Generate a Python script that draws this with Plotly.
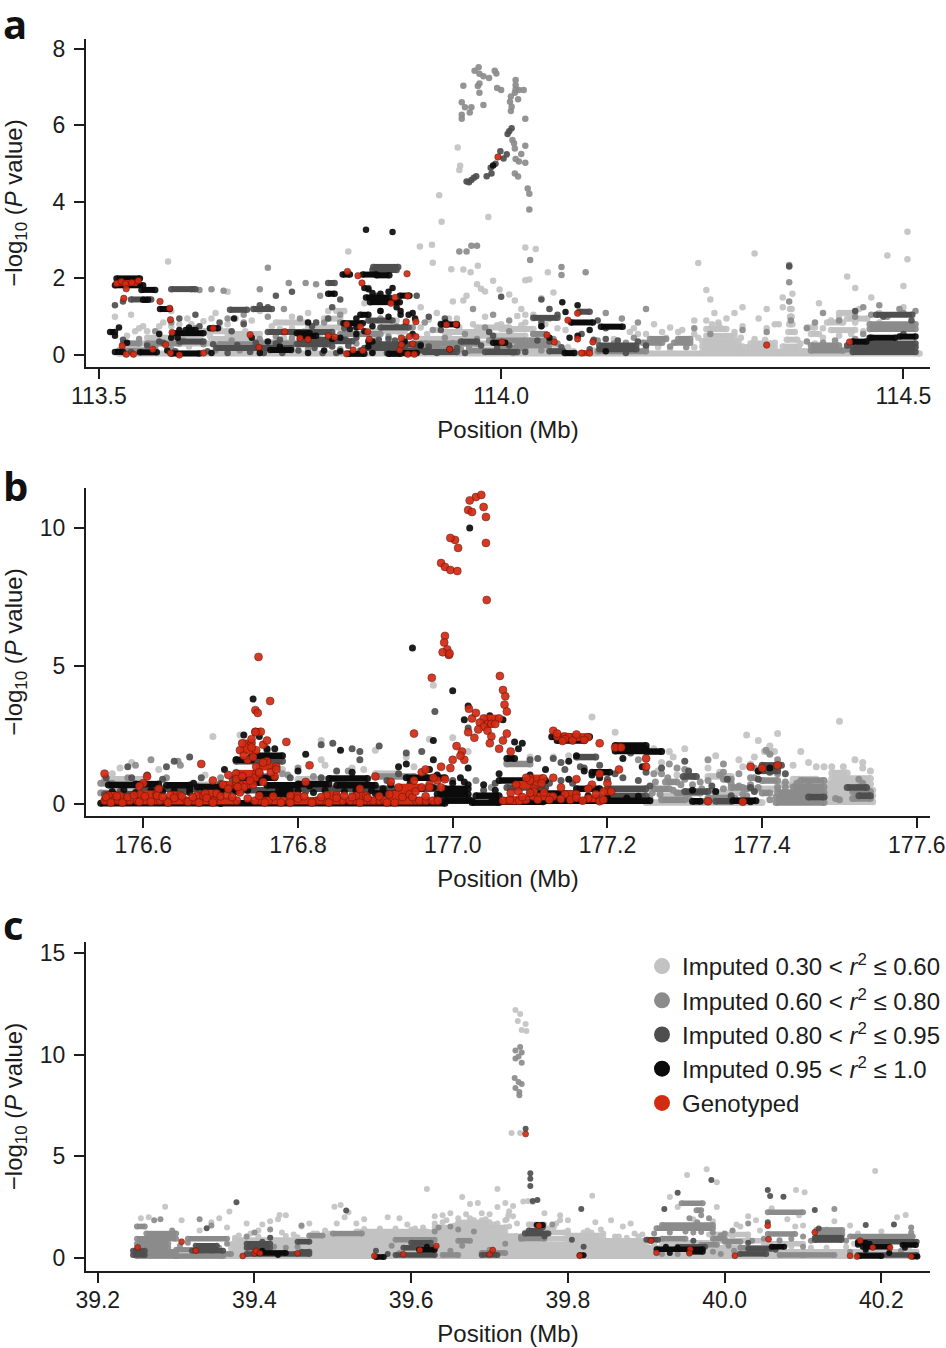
import plotly.graph_objects as go

# values
# *_runs = stretches of merged dots (x from, x to, y), *_px / *_py and *_dots = separate dots
class_names = ["Imputed 0.30 &lt; <i>r</i><sup>2</sup> ≤ 0.60", "Imputed 0.60 &lt; <i>r</i><sup>2</sup> ≤ 0.80",
               "Imputed 0.80 &lt; <i>r</i><sup>2</sup> ≤ 0.95", "Imputed 0.95 &lt; <i>r</i><sup>2</sup> ≤ 1.0", "Genotyped"]
class_colors = ["#c2c2c2", "#8b8b8b", "#4e4e4e", "#0b0b0b", "#d32a12"]

a_xticks = [113.5, 114.0, 114.5]
a_yticks = [0, 2, 4, 6, 8]
b_xticks = [176.6, 176.8, 177.0, 177.2, 177.4, 177.6]
b_yticks = [0, 5, 10]
c_xticks = [39.2, 39.4, 39.6, 39.8, 40.0, 40.2]
c_yticks = [0, 5, 10, 15]

# ---- panel a
a_light_runs = [(113.525, 114.52, 0.04), (113.53, 113.58, 0.3), (113.56, 113.62, 0.45), (113.60, 113.66, 0.3), (113.64, 113.69, 0.42), (113.66, 113.70, 0.55),
                (113.63, 113.66, 0.62), (113.70, 113.74, 0.33), (113.76, 113.80, 0.72), (113.78, 113.80, 0.95), (113.795, 113.805, 1.15), (113.88, 113.92, 0.2),
                (113.90, 113.96, 0.42), (113.92, 113.99, 0.3), (113.93, 113.98, 0.6), (113.96, 114.03, 0.5), (113.97, 114.01, 0.72), (114.0, 114.04, 0.3), (114.0, 114.04, 0.68),
                (114.03, 114.09, 0.1), (114.25, 114.30, 0.08), (114.25, 114.30, 0.22), (114.25, 114.295, 0.36), (114.255, 114.29, 0.5), (114.255, 114.28, 0.68),
                (114.30, 114.345, 0.08), (114.305, 114.34, 0.2), (114.31, 114.335, 0.3), (114.345, 114.375, 0.08), (114.35, 114.37, 0.22), (114.355, 114.368, 0.4),
                (114.357, 114.365, 0.6), (114.358, 114.362, 0.8), (114.359, 114.361, 1.0), (114.359, 114.361, 1.2), (114.38, 114.39, 0.72), (114.385, 114.395, 0.55),
                (114.37, 114.385, 0.1), (114.405, 114.425, 0.85), (114.41, 114.44, 0.65), (114.43, 114.455, 0.95), (114.42, 114.44, 1.1), (113.84, 113.88, 0.62), (113.72, 113.76, 0.85)]
a_light_px = [113.586, 113.81, 113.899, 113.914, 113.915, 113.938, 113.962, 113.946, 113.949, 113.948, 113.923, 113.926, 113.953, 113.971, 113.984,
              113.99, 113.998, 113.97, 113.975, 113.98, 113.957, 113.953, 114.01, 114.017, 114.03, 114.035, 114.03, 114.043, 114.058, 114.065,
              114.025, 114.03, 114.05, 113.52, 113.54, 113.555, 113.58, 113.61, 113.645, 113.66, 113.69, 113.715, 113.74, 113.77, 113.785,
              114.245, 114.255, 114.265, 114.28, 114.30, 114.315, 114.33, 114.35, 114.358, 114.36, 114.362, 114.395, 114.41, 114.43, 114.445, 114.46,
              114.48, 114.50, 114.505, 114.505, 114.50, 114.47, 114.44, 114.24, 114.27, 114.32, 114.34, 114.13, 114.16, 114.18, 114.20, 114.22,
              113.90, 113.92, 113.935, 113.94, 113.98, 114.00, 114.04, 114.06, 114.08, 113.55, 113.60, 113.59, 113.64, 113.70, 113.76, 113.83,
              114.255, 114.27, 114.30, 114.345, 114.40, 114.47, 114.35, 114.33, 114.26, 114.29, 114.44, 114.42,
              114.14, 114.165, 114.17, 114.19, 114.205, 114.24, 114.21, 114.225, 113.66, 113.67, 113.59, 113.615, 113.56, 113.575, 113.63, 113.65, 113.725, 113.74,
              113.77, 113.785, 113.82, 113.87, 113.90, 113.91, 113.925, 113.945, 114.04, 114.02, 114.03, 114.055, 114.07]
a_light_py = [2.44, 2.70, 2.83, 2.88, 2.41, 2.24, 2.16, 5.42, 4.94, 4.83, 4.17, 3.48, 2.23, 2.33, 3.60, 1.94, 1.71, 1.85, 1.73, 1.66, 1.55, 1.42, 1.58, 1.42,
              2.81, 1.97, 1.95, 2.77, 2.16, 1.63, 1.20, 1.05, 1.48, 1.0, 1.05, 0.75, 0.85, 0.95, 1.1, 1.65, 0.9, 0.75, 1.0, 0.85, 1.15,
              2.40, 1.7, 1.1, 0.95, 1.25, 2.65, 1.2, 1.5, 2.3, 1.0, 1.6, 1.35, 0.9, 2.05, 1.2, 1.5,
              2.6, 1.25, 3.22, 2.5, 1.8, 1.1, 0.85, 0.9, 0.85, 0.95, 0.8, 0.72, 0.6, 0.55, 0.6, 0.6,
              1.25, 1.1, 0.95, 1.4, 1.0, 0.8, 1.05, 1.2, 0.65, 0.7, 0.8, 1.15, 0.95, 1.15, 1.1, 1.35,
              0.9, 0.8, 0.75, 0.8, 0.7, 0.85, 1.25, 0.7, 1.45, 1.1, 1.75, 1.0,
              0.42, 0.7, 0.55, 0.8, 0.45, 0.55, 0.72, 0.65, 0.8, 0.95, 0.75, 0.8, 0.62, 0.75, 0.88, 0.7, 0.68, 0.7,
              0.6, 0.95, 0.7, 0.9, 0.72, 0.92, 0.82, 0.95, 0.95, 1.02, 0.85, 0.8, 0.7]
a_light_dots = [(113.535, 0.5), (113.545, 0.62), (113.565, 0.3), (113.575, 0.58), (113.585, 0.38), (113.6, 0.48), (113.612, 0.22), (113.625, 0.45), (113.638, 0.5), (113.652, 0.32), (113.668, 0.48), (113.682, 0.62),
                (113.695, 0.38), (113.712, 0.25), (113.73, 0.45), (113.748, 0.35), (113.775, 0.55), (113.79, 0.4), (113.815, 0.55), (113.84, 0.45), (113.875, 0.55), (113.893, 0.38), (113.908, 0.55), (113.92, 0.65),
                (113.935, 0.5), (113.948, 0.72), (113.965, 0.8), (113.985, 0.62), (113.995, 0.78), (114.012, 0.6), (114.025, 0.78), (114.045, 0.15), (114.068, 0.22), (114.083, 0.2), (114.115, 0.12), (114.16, 0.15),
                (114.178, 0.12), (114.195, 0.2), (114.21, 0.15), (114.24, 0.2), (114.245, 0.45), (114.262, 0.8), (114.272, 0.72), (114.29, 0.6), (114.298, 0.45), (114.315, 0.42), (114.328, 0.4), (114.34, 0.32),
                (114.372, 0.3), (114.39, 0.3), (114.4, 0.45), (114.42, 0.5), (114.435, 0.55), (114.45, 0.62), (114.462, 0.45)]
a_mid_runs = [(113.525, 113.56, 0.12), (113.53, 113.55, 0.3), (113.56, 113.60, 0.3), (113.65, 113.70, 0.28), (113.96, 114.0, 0.12), (114.0, 114.03, 0.18),
              (113.91, 113.95, 0.15), (113.94, 113.97, 0.3), (113.985, 114.03, 0.38), (114.02, 114.06, 0.25), (114.035, 114.055, 0.38), (114.04, 114.055, 0.55),
              (114.176, 114.20, 0.32), (114.185, 114.205, 0.42), (114.215, 114.235, 0.32), (114.22, 114.235, 0.42), (114.12, 114.18, 0.1), (114.385, 114.425, 0.12),
              (114.385, 114.42, 0.25), (114.458, 114.515, 0.8), (114.458, 114.515, 0.68), (113.70, 113.78, 0.3), (113.80, 113.85, 0.55), (113.905, 113.94, 0.3),
              (114.43, 114.46, 0.15)]
a_mid_px = [113.967, 113.972, 113.973, 113.978, 113.985, 113.992, 113.994, 113.953, 113.973, 113.971, 113.973, 113.995, 114.000, 114.018, 114.018, 114.018,
            114.017, 114.022, 114.028, 114.012, 114.011, 114.021, 114.013, 114.012, 113.951, 113.955, 113.963, 113.961, 113.951, 113.951, 113.978, 114.030,
            114.014, 114.016, 114.017, 114.030, 114.018, 114.022, 114.025, 114.030, 114.017, 114.021, 114.033, 114.035, 114.035,
            113.71, 113.736, 113.757, 113.948, 113.963, 113.957, 113.97, 114.036, 114.075, 114.075, 114.105,
            113.615, 113.625, 113.64, 113.655, 113.68, 113.70, 113.71, 113.73, 113.77, 113.775, 113.80, 113.80,
            114.46, 114.48, 114.50, 114.45, 114.44, 114.42, 114.40, 114.39, 114.38, 114.358, 114.358, 114.358, 114.36, 114.47, 114.495, 114.515,
            114.13, 114.15, 114.17, 114.18, 114.24, 114.26, 114.30, 114.33, 113.965, 113.99, 114.01, 114.06, 114.05, 114.04,
            113.57, 113.59, 113.62, 113.66, 113.68, 113.75, 113.78, 113.85, 113.87, 113.89, 113.905, 113.915, 113.955, 113.98, 114.01]
a_mid_py = [7.42, 7.51, 7.34, 7.28, 7.23, 7.42, 7.35, 7.03, 7.09, 7.02, 6.85, 6.97, 6.92, 7.18, 7.05, 6.94, 6.85, 6.92, 6.92, 6.75, 6.61, 6.68, 6.48, 6.37,
            6.60, 6.47, 6.47, 6.33, 6.27, 6.17, 6.53, 6.17, 5.61, 5.53, 5.39, 5.46, 5.12, 5.05, 5.25, 5.02, 4.74, 4.66, 4.35, 4.21, 3.80,
            2.28, 1.88, 1.88, 2.70, 2.85, 2.70, 2.85, 2.48, 2.30, 2.09, 2.16,
            1.72, 1.7, 1.72, 1.68, 1.05, 1.72, 1.0, 1.2, 1.85, 1.55, 1.05, 0.85,
            1.05, 1.0, 1.1, 1.25, 1.0, 0.9, 1.1, 0.85, 0.7, 2.35, 1.9, 1.4, 0.9, 1.3, 1.2, 1.15,
            1.1, 0.95, 0.85, 1.2, 0.7, 0.55, 0.65, 0.6, 1.2, 1.05, 0.9, 0.95, 0.75, 0.55,
            0.62, 0.85, 0.7, 0.95, 0.85, 0.95, 0.85, 0.95, 0.75, 0.72, 0.85, 0.65, 0.55, 0.72, 0.62]
a_mid_dots = [(113.55, 0.42), (113.57, 0.18), (113.59, 0.15), (113.605, 0.38), (113.63, 0.28), (113.645, 0.12), (113.665, 0.38), (113.675, 0.12), (113.7, 0.42), (113.72, 0.48), (113.74, 0.45), (113.76, 0.15), (113.785, 0.48),
              (113.8, 0.15), (113.82, 0.3), (113.845, 0.38), (113.86, 0.48), (113.88, 0.42), (113.9, 0.3), (113.92, 0.2), (113.93, 0.45), (113.96, 0.22), (113.97, 0.42), (114.015, 0.05), (114.05, 0.12), (114.065, 0.42),
              (114.07, 0.3), (114.12, 0.38), (114.14, 0.3), (114.155, 0.32), (114.165, 0.45), (114.18, 0.18), (114.21, 0.22), (114.23, 0.2), (114.38, 0.35), (114.4, 0.32), (114.415, 0.38), (114.44, 0.42), (114.45, 0.55)]
a_dark_runs = [(113.71, 113.754, 0.6), (113.755, 113.79, 0.6), (113.646, 113.69, 0.18), (113.692, 113.739, 0.18), (113.746, 113.785, 0.28), (113.78, 113.815, 0.36),
               (113.837, 113.90, 0.28), (113.862, 113.91, 0.12), (113.83, 113.87, 0.18), (113.75, 113.807, 0.4), (113.841, 113.872, 2.30), (113.692, 113.715, 1.2),
               (113.663, 113.684, 1.18), (113.785, 113.793, 1.88), (113.84, 113.87, 2.22), (113.54, 113.565, 1.45), (113.59, 113.62, 1.72), (113.85, 113.885, 0.72),
               (113.905, 113.945, 0.08), (113.98, 114.02, 0.08), (114.04, 114.07, 0.97), (114.06, 114.077, 0.1), (114.097, 114.11, 1.13), (114.122, 114.168, 0.15),
               (114.122, 114.168, 0.25), (114.437, 114.515, 0.08), (114.437, 114.515, 0.2), (114.445, 114.515, 0.3), (114.466, 114.511, 1.05), (113.95, 113.97, 0.35),
               (113.6, 113.63, 0.35), (113.835, 113.865, 0.9)]
a_dark_px = [113.957, 113.96, 113.963, 113.966, 113.969, 113.982, 113.987, 113.988, 113.993, 113.999, 114.003, 114.007, 114.008, 114.01, 114.013, 114.0,
             113.52, 113.53, 113.60, 113.62, 113.65, 113.68, 113.70, 113.71, 113.72, 113.74, 113.77, 113.79, 113.785, 113.80, 113.835, 113.845, 113.85, 113.88, 113.895, 113.91,
             114.05, 114.06, 114.07, 114.10, 114.12, 114.13, 114.05, 113.925, 113.93, 113.985, 113.99, 114.475, 114.50, 114.51, 114.44, 114.358,
             113.53, 113.575, 113.625, 113.665, 113.725, 113.765, 113.805, 113.86]
a_dark_py = [4.53, 4.51, 4.57, 4.63, 4.67, 4.67, 4.89, 4.74, 4.99, 5.32, 5.13, 5.24, 5.77, 5.84, 5.92, 1.52,
             1.3, 1.4, 0.95, 1.05, 0.85, 0.8, 1.3, 1.25, 1.55, 1.65, 0.85, 1.25, 0.95, 1.45, 1.75, 1.55, 1.15, 0.75, 1.55, 1.0,
             1.45, 1.2, 1.05, 0.55, 0.9, 0.7, 0.85, 0.65, 0.95, 0.6, 0.5, 1.0, 0.55, 0.9, 1.15, 2.32,
             0.4, 0.35, 0.75, 0.62, 0.4, 0.75, 0.7, 0.42]
a_dark_dots = [(113.54, 0.08), (113.56, 0.25), (113.58, 0.32), (113.595, 0.1), (113.635, 0.1), (113.642, 0.28), (113.66, 0.05), (113.672, 0.26), (113.688, 0.08), (113.695, 0.32), (113.705, 0.05), (113.72, 0.3), (113.728, 0.05),
               (113.748, 0.12), (113.752, 0.48), (113.768, 0.18), (113.778, 0.05), (113.79, 0.22), (113.795, 0.05), (113.81, 0.24), (113.825, 0.12), (113.82, 0.45), (113.84, 0.08), (113.848, 0.4), (113.858, 0.05), (113.868, 0.38),
               (113.88, 0.18), (113.885, 0.05), (113.895, 0.22), (113.91, 0.22), (113.92, 0.05), (113.945, 0.18), (113.955, 0.05), (113.975, 0.25), (113.995, 0.18), (114.01, 0.25), (114.03, 0.08), (114.045, 0.38), (114.06, 0.35),
               (114.075, 0.2), (114.11, 0.15), (114.115, 0.4), (114.13, 0.42), (114.145, 0.38), (114.155, 0.05), (114.17, 0.35), (114.18, 0.25), (114.43, 0.25), (114.44, 0.12), (114.46, 0.45)]
a_black_runs = [(113.522, 113.551, 2.00), (113.52, 113.555, 1.82), (113.553, 113.57, 1.70), (113.576, 113.588, 1.20), (113.555, 113.561, 1.44), (113.592, 113.63, 0.57),
                (113.608, 113.62, 0.65), (113.551, 113.572, 0.07), (113.713, 113.739, 0.13), (113.746, 113.762, 0.57), (113.804, 113.828, 0.83), (113.828, 113.845, 2.10),
                (113.832, 113.861, 1.50), (113.837, 113.874, 1.38), (113.874, 113.886, 1.55), (113.845, 113.861, 2.08), (113.785, 113.793, 1.60), (113.803, 113.812, 2.10),
                (113.514, 113.52, 0.6), (113.52, 113.53, 0.08), (113.638, 113.648, 0.7), (113.59, 113.625, 0.04), (113.81, 113.83, 0.03), (113.86, 113.875, 0.03), (113.88, 113.895, 0.05),
                (114.087, 114.114, 0.85), (114.124, 114.151, 0.74), (114.458, 114.49, 0.45), (114.495, 114.515, 0.48), (114.437, 114.454, 0.35), (114.079, 114.091, 0.05),
                (113.925, 113.945, 0.80), (113.75, 113.77, 0.5), (113.825, 113.835, 1.05), (113.99, 114.005, 0.32)]
a_black_px = [113.832, 113.865, 113.99, 113.931, 113.936, 113.945, 114.076, 114.095, 114.08, 113.575, 113.59, 113.60, 113.69, 113.79, 113.82, 113.835, 113.85, 113.865, 113.875, 113.885, 113.89,
              113.78, 113.90, 114.06, 114.085, 114.095, 114.11, 114.13, 114.05, 113.83, 113.84, 113.86, 113.88, 113.668, 113.76, 113.8, 113.84]
a_black_py = [3.27, 3.21, 4.95, 0.85, 0.15, 0.78, 1.38, 1.30, 1.12, 0.55, 0.45, 0.65, 0.45, 0.42, 0.55, 0.35, 1.15, 1.75, 1.05, 1.05, 0.55,
              0.12, 0.25, 0.45, 0.45, 0.5, 0.65, 0.1, 0.75, 1.75, 0.75, 1.0, 0.35, 0.95, 0.85, 0.1, 0.05]
a_black_dots = [(113.52, 0.5), (113.525, 0.72), (113.535, 0.32), (113.585, 0.12), (113.598, 0.45), (113.612, 0.72), (113.64, 0.05), (113.7, 0.05), (113.71, 0.35), (113.725, 0.22), (113.76, 0.05), (113.8, 0.45), (113.82, 0.72),
                (113.83, 0.62), (113.812, 0.68), (113.835, 0.22), (113.84, 0.35), (113.85, 1.6), (113.84, 1.62), (113.835, 1.72), (113.86, 1.65), (113.87, 1.25), (113.875, 1.15), (113.89, 1.1), (113.893, 0.95), (113.82, 0.95)]
a_red_runs = [(113.525, 113.545, 1.88), (114.10, 114.11, 0.05)]
a_red_px = [113.522, 113.528, 113.533, 113.541, 113.549, 113.534, 113.531, 113.576, 113.588, 113.589, 113.591, 113.583, 113.529, 113.534, 113.543, 113.567,
            113.589, 113.6, 113.630, 113.642, 113.688, 113.699, 113.731, 113.75, 113.76, 113.785, 113.793, 113.809, 113.822, 113.827, 113.808, 113.825, 113.834, 113.836, 113.808,
            113.816, 113.828, 113.868, 113.863, 113.884, 113.883, 113.882, 113.894, 113.932, 113.944, 113.936, 113.876, 113.886, 113.894, 113.874, 113.876, 113.89, 113.884, 113.892,
            113.996, 114.095, 114.083, 114.095, 114.114, 114.057, 114.066, 114.001, 114.33, 114.433]
a_red_py = [1.87, 1.92, 1.86, 1.89, 1.94, 1.73, 1.48, 1.40, 1.22, 0.92, 0.59, 0.27, 0.24, 0.02, 0.02, 0.15, 0.05, 0.0, 0.05, 0.7, 0.53, 0.2, 0.61, 0.44, 0.41, 0.5, 0.47,
            2.18, 2.07, 1.88, 0.8, 0.74, 0.61, 0.41, 0.03, 0.13, 0.12, 1.5, 1.35, 1.54, 2.12, 0.87, 0.87, 0.79, 0.8, 0.15, 0.44, 0.48, 0.48, 0.13, 0.27, 0.29, 0.02, 0.02,
            5.17, 1.09, 0.91, 0.42, 0.34, 0.52, 0.34, 0.34, 0.26, 0.34]

# ---- panel b
b_light_runs = [(177.48, 177.543, 0.08), (177.48, 177.543, 0.3), (177.48, 177.543, 0.5), (177.485, 177.54, 0.72), (177.49, 177.54, 0.92), (177.49, 177.51, 1.12), (177.403, 177.416, 1.9),
                (177.25, 177.40, 0.05), (177.27, 177.30, 0.3), (177.34, 177.37, 0.42), (177.38, 177.42, 0.55), (177.44, 177.47, 0.9), (177.42, 177.44, 0.7), (176.55, 176.60, 0.9), (176.56, 176.64, 0.55),
                (176.66, 176.72, 0.7), (176.80, 176.86, 0.9), (176.90, 176.93, 1.1), (177.33, 177.36, 1.0)]
b_light_px = [176.69, 176.725, 176.727, 176.83, 176.83, 176.835, 176.885, 176.90, 176.94, 176.975, 176.97, 177.0, 177.02, 177.07, 177.10, 177.27, 177.28, 177.30, 177.34, 177.38, 177.395, 177.41, 177.42, 177.44, 177.45, 177.50, 177.46, 177.48, 177.53, 176.585, 177.18, 177.21,
              177.26, 177.265, 177.285, 177.29, 177.33, 177.345, 177.37, 177.375, 177.385, 177.39, 177.42, 177.47, 177.49, 177.505, 177.52, 177.53, 177.54, 176.56, 176.57, 176.62, 176.68, 176.78, 176.87, 176.95, 177.13, 177.15]
b_light_py = [2.45, 2.5, 2.2, 2.3, 1.6, 1.4, 1.25, 1.95, 1.7, 4.3, 2.35, 2.4, 1.9, 1.5, 1.7, 1.5, 1.9, 2.0, 1.75, 2.5, 2.3, 2.1, 2.55, 1.4, 1.9, 3.0, 1.5, 1.35, 1.3, 1.5, 3.15, 2.6,
              2.0, 1.2, 1.7, 1.05, 1.3, 1.15, 1.6, 1.35, 1.45, 1.7, 1.25, 1.35, 1.35, 1.35, 1.6, 1.5, 1.2, 1.1, 1.3, 1.25, 1.05, 1.25, 1.3, 1.35, 1.7, 1.75]
b_mid_runs = [(176.545, 176.56, 0.4), (176.545, 176.56, 0.75), (176.72, 176.76, 1.0), (176.90, 176.95, 1.0), (177.07, 177.10, 1.45), (177.418, 177.48, 0.05), (177.418, 177.48, 0.25), (177.42, 177.48, 0.42),
              (177.44, 177.48, 0.62), (177.45, 177.48, 0.85), (177.517, 177.54, 0.2), (177.517, 177.54, 0.45), (177.27, 177.30, 0.15), (177.29, 177.32, 0.4), (177.26, 177.28, 0.55), (177.275, 177.29, 0.8),
              (177.33, 177.36, 0.22), (177.36, 177.375, 0.6), (177.40, 177.42, 0.85), (177.40, 177.41, 0.4), (177.35, 177.36, 0.9), (177.31, 177.33, 0.1)]
b_mid_px = [176.59, 176.61, 176.645, 176.648, 176.72, 176.77, 176.78, 176.787, 176.80, 176.82, 176.865, 177.24, 177.26, 177.28, 177.30, 177.31, 177.32, 177.36, 177.37, 177.41, 177.42, 177.415, 177.405, 177.35, 177.385, 177.39, 177.33,
            177.258, 177.27, 177.30, 177.305, 177.335, 177.345, 177.38, 177.39, 177.37, 177.42, 177.43, 177.44, 177.495, 177.53, 177.525, 177.27, 177.29, 177.35, 177.4]
b_mid_py = [1.4, 1.6, 1.55, 1.4, 1.15, 1.4, 1.1, 1.05, 1.3, 1.0, 1.2, 1.6, 1.1, 1.45, 1.25, 1.0, 0.8, 0.75, 0.65, 1.8, 1.6, 1.3, 1.95, 1.15, 0.7, 1.3, 1.6,
            0.4, 1.1, 0.9, 0.2, 0.5, 1.05, 0.3, 0.95, 1.1, 1.1, 0.8, 0.35, 0.2, 0.75, 0.9, 1.9, 1.3, 1.45, 1.25]
b_mid_dots = [(177.255, 0.2), (177.262, 0.8), (177.268, 0.35), (177.278, 0.95), (177.285, 0.5), (177.295, 0.7), (177.31, 0.7), (177.322, 0.55), (177.33, 0.85), (177.34, 0.4), (177.35, 0.55), (177.365, 0.2), (177.375, 0.35),
              (177.38, 0.55), (177.385, 0.95), (177.395, 0.6), (177.41, 0.15), (177.42, 0.6), (177.43, 0.6), (177.445, 0.75), (177.46, 0.7), (177.5, 0.15), (177.525, 0.62), (176.58, 0.95), (176.63, 0.95), (176.7, 0.95),
              (176.84, 0.4), (176.87, 0.4), (177.05, 0.6), (177.03, 0.85), (177.12, 0.6)]
b_dark_runs = [(176.55, 176.60, 0.35), (176.60, 176.70, 0.55), (176.70, 176.80, 0.5), (176.80, 176.90, 0.55), (176.90, 176.98, 0.55), (176.55, 176.57, 0.15), (176.98, 177.02, 0.2), (177.07, 177.12, 0.6),
               (177.298, 177.315, 1.0), (177.30, 177.33, 0.45), (177.34, 177.36, 0.1), (177.395, 177.42, 1.2), (177.40, 177.425, 1.4), (177.20, 177.25, 0.55), (176.72, 176.78, 1.55), (177.16, 177.185, 1.7),
               (177.20, 177.25, 0.3), (177.46, 177.48, 0.25), (177.51, 177.535, 0.6), (177.525, 177.54, 0.3)]
b_dark_px = [176.58, 176.63, 176.64, 176.66, 176.70, 176.72, 176.76, 176.83, 176.845, 176.87, 176.88, 176.905, 176.94, 176.96, 176.977, 177.02, 177.10, 177.14, 177.19, 177.23, 177.27, 177.30, 177.305, 177.355, 177.385, 177.39, 177.41, 176.88, 176.85,
             177.11, 177.13, 177.145, 177.165, 177.21, 177.25, 177.335, 177.36, 177.375, 177.395, 177.43]
b_dark_py = [1.35, 1.35, 1.55, 1.7, 0.75, 1.6, 1.95, 2.15, 2.2, 2.0, 1.9, 2.1, 1.85, 1.9, 3.35, 2.75, 1.6, 1.5, 1.4, 1.85, 1.3, 1.55, 1.2, 0.9, 0.6, 0.45, 1.15, 1.6, 1.2,
             1.65, 1.65, 1.25, 1.35, 1.1, 1.15, 0.65, 0.3, 0.1, 0.9, 1.1]
b_dark_dots = [(176.552, 0.95), (176.57, 0.45), (176.585, 0.95), (176.605, 1.05), (176.625, 0.9), (176.655, 0.45), (176.675, 0.95), (176.69, 0.45), (176.715, 0.9), (176.79, 0.95), (176.81, 0.45), (176.83, 0.95), (176.85, 0.4), (176.87, 0.95),
               (176.89, 0.42), (176.915, 0.85), (176.93, 1.1), (176.965, 1.0), (177.0, 0.85), (177.04, 0.5), (177.055, 0.75), (177.125, 0.75), (177.14, 0.85), (177.155, 0.75), (177.17, 1.3), (177.2, 0.9), (177.22, 0.95), (177.24, 0.85), (177.255, 0.65)]
b_black_runs = [(176.555, 176.59, 0.69), (176.59, 176.62, 0.72), (176.63, 176.66, 0.68), (176.67, 176.70, 0.62), (176.70, 176.72, 0.55), (176.72, 176.75, 0.78), (176.76, 176.80, 0.68), (176.80, 176.84, 0.72), (176.85, 176.90, 0.68),
                (176.545, 176.70, 0.03), (176.70, 176.99, 0.03), (176.99, 177.025, 0.12), (177.025, 177.06, 0.05), (176.90, 176.94, 0.38), (176.98, 177.02, 0.35), (177.03, 177.06, 0.3), (176.75, 176.785, 0.35), (177.05, 177.117, 0.08),
                (177.117, 177.255, 0.12), (177.1, 177.16, 0.38), (177.06, 177.12, 0.85), (177.128, 177.177, 2.44), (177.135, 177.17, 2.3), (177.21, 177.25, 1.92), (177.21, 177.25, 2.12), (177.235, 177.25, 2.0), (177.362, 177.392, 0.12),
                (176.72, 176.77, 0.95), (176.74, 176.78, 1.75), (176.99, 177.02, 0.55), (177.25, 177.27, 1.9), (177.07, 177.08, 1.65), (176.84, 176.89, 0.92), (176.94, 176.99, 0.95), (177.18, 177.203, 1.15), (177.16, 177.19, 0.55),
                (176.775, 176.79, 0.5), (176.72, 176.74, 1.6), (177.31, 177.32, 0.1)]
b_black_px = [176.948, 176.742, 177.022, 177.0, 177.048, 176.94, 177.02, 177.015, 176.73, 176.75, 176.76, 176.77, 176.76, 176.93, 176.97, 176.975, 176.98, 177.065, 177.085, 177.08,
              177.06, 177.10, 177.12, 177.02, 177.01, 177.02, 176.705, 176.665, 176.66, 176.975, 177.385, 177.395, 177.41, 176.855, 176.81, 176.80, 176.815, 176.87, 177.17, 177.18, 177.19,
              177.245, 177.22, 177.34, 177.31, 177.09, 177.15, 177.15, 177.16]
b_black_py = [5.65, 3.8, 10.0, 4.1, 3.2, 1.45, 3.55, 3.05, 2.5, 2.45, 2.0, 2.0, 1.7, 1.35, 1.25, 1.6, 1.05, 3.05, 2.0, 2.25,
              1.1, 1.05, 1.25, 1.3, 0.95, 0.7, 1.25, 0.75, 0.55, 2.3, 0.08, 1.2, 1.3, 1.95, 1.8, 1.2, 0.65, 1.15, 1.2, 1.05, 0.95,
              1.35, 1.65, 0.45, 0.5, 2.2, 1.55, 0.9, 1.75]
b_black_dots = [(176.56, 0.45), (176.575, 0.52), (176.59, 0.42), (176.61, 0.5), (176.625, 0.45), (176.64, 0.48), (176.66, 0.42), (176.68, 0.5), (176.7, 0.42), (176.72, 0.45), (176.735, 0.5), (176.8, 0.48), (176.82, 0.42), (176.835, 0.5), (176.86, 0.45),
                (176.875, 0.5), (176.895, 0.48), (176.91, 0.55), (176.92, 0.7), (176.945, 0.75), (176.96, 0.55), (176.975, 0.6), (177.0, 0.75), (177.015, 0.8), (177.04, 0.7), (177.055, 0.5), (177.13, 0.3), (177.15, 0.25), (177.175, 0.3), (177.2, 0.25), (177.225, 0.22), (177.24, 0.28)]
b_red_runs = [(176.55, 176.562, 0.12), (176.568, 176.583, 0.12), (176.592, 176.622, 0.12), (176.63, 176.656, 0.12), (176.665, 176.689, 0.12), (176.691, 176.721, 0.12), (176.744, 176.759, 0.12),
              (176.762, 176.781, 0.12), (176.789, 176.824, 0.12), (176.828, 176.858, 0.12), (176.867, 176.893, 0.12), (176.897, 176.906, 0.12), (176.912, 176.953, 0.12), (176.957, 176.966, 0.12),
              (176.974, 176.981, 0.12), (177.065, 177.086, 0.12), (176.555, 176.57, 0.3), (176.596, 176.617, 0.35), (176.635, 176.648, 0.32), (176.669, 176.678, 0.3), (176.68, 176.695, 0.38), (176.79, 176.80, 0.3),
              (176.837, 176.85, 0.32), (176.875, 176.888, 0.3), (176.918, 176.944, 0.35), (176.703, 176.72, 0.7), (176.725, 176.742, 0.7), (176.72, 176.746, 1.1), (176.746, 176.772, 1.35), (176.725, 176.746, 1.95),
              (176.728, 176.74, 2.2), (176.745, 176.752, 2.62), (176.93, 176.96, 0.6), (177.04, 177.06, 3.1), (177.074, 177.095, 0.15), (177.082, 177.108, 0.7), (177.10, 177.117, 0.93), (177.104, 177.13, 0.27),
              (177.175, 177.19, 0.2), (177.195, 177.205, 0.45), (177.145, 177.16, 0.35), (177.045, 177.05, 2.9), (177.135, 177.145, 2.45), (177.15, 177.175, 2.42), (177.21, 177.218, 2.05)]
b_red_px = [177.030, 177.037, 177.022, 177.02, 177.04, 177.025, 177.043, 177.003, 177.007, 176.997, 177.043, 176.985, 176.99, 176.997, 177.006, 177.044,
            176.99, 176.989, 176.993, 176.995, 176.987, 176.996, 176.973, 177.061, 177.065, 177.068, 177.067, 177.07, 176.749, 176.764, 176.745, 176.748,
            177.021, 177.025, 177.03, 177.035, 177.04, 177.02, 177.028, 177.033, 177.045, 177.05, 177.055, 177.048, 177.06, 177.065, 177.07, 177.075, 177.012, 177.015, 177.005, 177.01,
            176.997, 177.0, 176.95, 176.985, 176.96, 176.95, 176.98, 176.975, 176.97, 176.965,
            176.55, 176.60, 176.605, 176.62, 176.595, 176.675, 176.69, 176.71, 176.72, 176.73, 176.745, 176.75, 176.755, 176.76, 176.77, 176.785,
            176.745, 176.74, 176.755, 176.74, 176.76, 176.735, 176.9, 176.92, 176.97, 176.985, 176.99, 176.88, 176.815, 176.81,
            177.1, 177.13, 177.14, 177.105, 177.115, 177.16, 177.18, 177.2, 177.19, 177.33, 177.375, 177.40, 177.42, 177.385, 177.105, 177.095,
            177.13, 177.145, 177.19, 177.215, 177.25, 177.25, 177.175, 177.19]
b_red_py = [11.12, 11.2, 11.0, 10.65, 10.76, 10.58, 10.4, 9.57, 9.28, 9.64, 9.46, 8.73, 8.59, 8.48, 8.44, 7.39,
            6.09, 5.85, 5.6, 5.4, 5.5, 5.45, 4.57, 4.64, 4.13, 3.9, 3.6, 3.35, 5.33, 3.73, 3.4, 3.3,
            3.45, 3.1, 3.3, 2.95, 2.8, 2.6, 2.4, 2.7, 2.65, 2.45, 2.9, 2.2, 2.0, 2.3, 2.55, 1.9, 1.9, 1.6, 2.1, 1.75,
            1.3, 1.6, 2.55, 1.35, 1.15, 0.85, 0.85, 0.95, 0.7, 1.25,
            1.1, 0.75, 1.0, 0.55, 0.65, 1.45, 0.85, 1.05, 0.8, 0.6, 0.95, 1.1, 0.8, 1.55, 1.0, 2.25,
            2.6, 2.35, 2.15, 2.05, 2.3, 1.6, 1.0, 0.8, 0.6, 0.6, 0.9, 0.55, 1.4, 0.8,
            0.85, 0.95, 0.6, 0.55, 0.75, 0.9, 0.7, 0.75, 2.2, 0.1, 0.08, 1.3, 1.4, 1.35, 0.45, 0.95,
            2.65, 2.35, 1.1, 1.25, 1.65, 1.35, 0.55, 0.1]
b_red_dots = [(176.552, 0.25), (176.558, 0.05), (176.566, 0.28), (176.573, 0.05), (176.58, 0.25), (176.588, 0.32), (176.595, 0.08), (176.602, 0.28), (176.61, 0.08), (176.618, 0.3), (176.625, 0.25), (176.632, 0.05), (176.64, 0.22), (176.65, 0.28), (176.658, 0.08),
              (176.664, 0.25), (176.672, 0.05), (176.682, 0.22), (176.69, 0.05), (176.7, 0.28), (176.708, 0.32), (176.715, 0.25), (176.725, 0.42), (176.735, 0.2), (176.75, 0.3), (176.757, 0.05), (176.768, 0.28), (176.778, 0.05), (176.79, 0.05), (176.8, 0.2),
              (176.808, 0.28), (176.818, 0.05), (176.83, 0.25), (176.84, 0.05), (176.85, 0.22), (176.86, 0.3), (176.87, 0.25), (176.88, 0.05), (176.89, 0.22), (176.905, 0.28), (176.915, 0.05), (176.925, 0.05), (176.935, 0.25), (176.948, 0.25), (176.952, 0.45), (176.965, 0.28),
              (176.72, 0.9), (176.728, 1.0), (176.738, 0.85), (176.75, 1.15), (176.765, 1.15), (176.772, 1.25), (176.755, 1.5), (176.73, 1.75), (176.742, 1.7), (176.722, 0.62), (176.71, 0.55),
              (177.075, 0.4), (177.085, 0.45), (177.09, 0.25), (177.1, 0.4), (177.11, 0.15), (177.118, 0.42), (177.125, 0.15), (177.14, 0.18), (177.152, 0.15), (177.16, 0.22), (177.168, 0.12), (177.185, 0.35), (177.195, 0.15),
              (177.135, 2.55), (177.142, 2.28), (177.155, 2.3), (177.16, 2.52), (177.17, 2.32)]

# ---- panel c
c_light_runs = [(39.25, 40.245, 0.08), (39.37, 39.90, 0.28), (39.37, 39.90, 0.48), (39.37, 39.62, 0.68), (39.63, 39.90, 0.68), (39.375, 39.46, 0.88), (39.46, 39.62, 0.88), (39.62, 39.745, 0.88),
                (39.80, 39.905, 0.85), (39.75, 39.80, 0.95), (39.47, 39.62, 1.05), (39.62, 39.735, 1.08), (39.745, 39.80, 1.25), (39.80, 39.84, 1.1), (39.62, 39.72, 1.28), (39.53, 39.62, 1.3), (39.63, 39.72, 1.50),
                (39.66, 39.70, 1.75), (39.9, 40.245, 0.30), (39.9, 40.06, 0.50), (39.985, 40.05, 0.85), (40.05, 40.10, 0.70), (39.92, 39.98, 0.75), (39.98, 40.03, 1.15), (39.75, 39.77, 1.65)]
c_light_px = [39.733, 39.739, 39.736, 39.746, 39.741, 39.747, 39.728, 39.739, 39.743, 39.749, 39.755,
              39.286, 39.368, 39.432, 39.502, 39.51, 39.62, 39.665, 39.675, 39.685, 39.71, 39.71, 39.831, 39.952, 39.977, 39.99, 40.091, 40.102, 40.192, 40.231, 40.22,
              39.255, 39.265, 39.307, 39.33, 39.345, 39.355, 39.365, 39.39, 39.41, 39.42, 39.43, 39.44, 39.46, 39.47, 39.49, 39.505, 39.515, 39.52, 39.53, 39.54,
              39.57, 39.585, 39.63, 39.64, 39.65, 39.66, 39.67, 39.69, 39.70, 39.72, 39.725, 39.73, 39.73, 39.735, 39.72, 39.77, 39.785, 39.79, 39.80, 39.835, 39.855, 39.87, 39.88,
              39.93, 39.94, 39.96, 39.985, 39.99, 40.015, 40.03, 40.04, 40.06, 40.08, 40.095, 40.10, 40.14, 40.16, 40.17, 40.20,
              39.38, 39.395, 39.405, 39.435, 39.45, 39.475, 39.495, 39.55, 39.56, 39.575, 39.595, 39.605, 39.615, 39.64, 39.655, 39.675, 39.69, 39.705, 39.725, 39.775, 39.795, 39.815, 39.825, 39.845, 39.865, 39.885, 39.895,
              39.72, 39.722, 39.724, 39.782, 39.79, 39.83, 39.842, 40.01, 40.02, 40.045, 40.07, 40.09, 40.13, 40.15]
c_light_py = [12.19, 11.99, 11.65, 11.5, 11.2, 11.15, 6.14, 6.14, 2.77, 2.8, 2.75,
              2.52, 2.28, 2.11, 2.52, 2.6, 3.39, 3.0, 2.65, 2.7, 3.39, 2.5, 3.06, 4.08, 4.36, 3.72, 3.34, 3.23, 4.27, 2.11, 2.0,
              1.95, 2.0, 1.85, 1.35, 1.75, 1.95, 1.5, 1.7, 1.65, 1.8, 1.9, 2.1, 1.55, 1.7, 1.35, 1.7, 2.0, 2.25, 1.7, 1.9,
              2.0, 1.95, 2.05, 2.1, 2.2, 1.95, 2.15, 2.2, 2.15, 2.7, 2.3, 2.55, 2.05, 1.7, 1.85, 2.2, 1.7, 2.1, 1.85, 1.75, 1.85, 1.55, 1.7,
              3.0, 2.5, 1.9, 1.8, 2.5, 1.65, 2.05, 1.85, 2.45, 1.9, 2.1, 1.6, 1.8, 1.6, 1.2, 1.3,
              1.1, 1.2, 1.35, 1.25, 1.15, 1.2, 1.2, 1.25, 1.45, 1.2, 1.65, 1.45, 1.35, 1.75, 1.6, 1.95, 1.85, 1.65, 1.55, 1.45, 1.25, 1.05, 1.35, 1.2, 1.05, 1.2, 1.15,
              1.5, 1.9, 2.1, 1.5, 1.85, 1.25, 1.4, 1.3, 1.55, 1.35, 0.9, 1.55, 1.4, 1.25]
c_light_dots = [(39.375, 1.0), (39.39, 0.98), (39.405, 1.05), (39.42, 1.0), (39.44, 1.08), (39.455, 1.02), (39.48, 1.2), (39.54, 1.42), (39.56, 1.38), (39.58, 1.45), (39.6, 1.4), (39.615, 1.5), (39.63, 1.7), (39.645, 1.85), (39.66, 1.62),
                (39.68, 1.85), (39.695, 1.9), (39.71, 1.7), (39.775, 1.05), (39.8, 1.35), (39.82, 1.25), (39.845, 1.02), (39.86, 1.05), (39.875, 1.0), (39.89, 1.05), (39.91, 0.68), (39.93, 0.62), (39.95, 0.65), (39.99, 0.68),
                (40.01, 0.95), (40.03, 0.95), (40.07, 0.5), (40.085, 0.55), (40.11, 0.5), (40.13, 0.5), (40.155, 0.55), (40.165, 0.7), (40.235, 0.5)]
c_mid_runs = [(39.25, 39.30, 0.10), (39.25, 39.30, 0.30), (39.25, 39.29, 0.50), (39.25, 39.29, 0.70), (39.25, 39.30, 0.95), (39.30, 39.36, 0.10), (39.30, 39.335, 0.40), (39.262, 39.30, 1.20),
              (39.25, 39.26, 1.55), (39.315, 39.365, 0.95), (39.47, 39.487, 1.10), (39.50, 39.537, 1.20), (39.36, 39.37, 0.20), (39.58, 39.63, 0.90), (39.64, 39.66, 0.15), (39.74, 39.77, 0.95),
              (39.69, 39.72, 0.25), (39.913, 39.985, 1.46), (39.92, 39.985, 1.62), (39.945, 39.972, 2.69), (39.964, 39.97, 2.35), (40.055, 40.10, 2.25), (40.055, 40.09, 1.18), (40.117, 40.15, 1.38),
              (39.985, 40.0, 0.95), (40.02, 40.055, 0.50), (40.07, 40.1, 0.15), (40.0, 40.02, 0.80), (39.97, 39.99, 0.65), (40.16, 40.24, 1.05), (40.1, 40.14, 0.15), (39.92, 39.95, 0.95), (40.12, 40.15, 1.15), (39.66, 39.675, 0.85)]
c_mid_px = [39.733, 39.739, 39.741, 39.733, 39.737, 39.741, 39.732, 39.737, 39.741, 39.733, 39.738, 39.738, 39.272, 39.28, 39.345, 39.33, 39.39, 39.40, 39.42, 39.46, 39.635, 39.66, 39.63, 39.65, 39.68, 39.72, 40.14, 40.238, 40.238, 40.238, 40.0, 40.01, 40.03, 39.955, 39.97, 39.98, 39.74, 39.78, 39.96, 39.965]
c_mid_py = [10.2, 10.37, 10.1, 9.8, 9.9, 9.6, 8.85, 8.65, 8.55, 8.35, 8.16, 8.0, 1.85, 1.9, 1.6, 1.9, 1.05, 1.25, 1.4, 1.6, 1.5, 1.4, 1.3, 1.55, 1.3, 0.7, 2.41, 1.5, 1.25, 1.05, 1.2, 1.35, 1.7, 1.95, 2.1, 1.95, 1.05, 1.65, 1.25, 1.75]
c_mid_dots = [(39.305, 0.6), (39.315, 0.75), (39.33, 0.2), (39.345, 0.3), (39.355, 0.5), (39.365, 0.7), (39.295, 1.35), (39.28, 1.05), (39.27, 0.85), (39.425, 0.55), (39.44, 0.5), (39.455, 0.55), (39.575, 0.6), (39.585, 0.25), (39.65, 0.35),
              (39.665, 0.6), (39.7, 0.4), (39.91, 1.2), (39.93, 1.25), (39.95, 1.3), (39.97, 1.28), (39.985, 1.25), (39.995, 1.1), (40.005, 0.6), (40.012, 0.35), (40.035, 0.85), (40.05, 0.95), (40.07, 0.85), (40.085, 0.95), (40.1, 1.05), (40.1, 0.55),
              (40.11, 0.85), (40.155, 0.85), (40.16, 0.3), (40.18, 0.3), (40.21, 0.3), (40.225, 0.35), (39.92, 0.2), (39.94, 0.2), (39.985, 0.3), (39.995, 0.2)]
c_dark_runs = [(39.245, 39.26, 0.15), (39.245, 39.26, 0.35), (39.325, 39.352, 0.60), (39.39, 39.47, 0.20), (39.39, 39.42, 0.50), (39.39, 39.42, 0.7), (39.455, 39.47, 0.80), (39.46, 39.47, 0.30), (39.59, 39.63, 0.50),
               (39.58, 39.63, 0.15), (39.6, 39.625, 0.75), (39.69, 39.71, 0.15), (40.115, 40.149, 0.88), (40.115, 40.149, 1.00), (40.17, 40.245, 0.80), (40.019, 40.053, 0.20), (40.03, 40.06, 0.45),
               (39.745, 39.775, 1.20), (39.94, 39.975, 0.55), (40.17, 40.245, 0.15), (39.32, 39.36, 0.35), (39.75, 39.765, 1.35), (39.90, 39.915, 0.90)]
c_dark_px = [39.746, 39.752, 39.752, 39.752, 39.755, 39.761, 39.768, 39.772, 39.77, 39.339, 39.377, 39.517, 39.817, 39.983, 39.94, 39.923, 40.055, 40.058, 40.075, 40.115, 40.18, 40.216, 39.41, 39.42, 39.555, 39.57, 39.82, 39.805, 39.96, 40.03, 40.055, 40.065, 40.12]
c_dark_py = [6.35, 4.16, 3.9, 3.54, 2.8, 2.85, 1.5, 1.2, 1.05, 1.46, 2.74, 2.33, 2.41, 3.83, 3.21, 2.41, 3.34, 3.05, 3.01, 2.36, 1.62, 1.65, 0.8, 1.0, 0.35, 0.2, 0.55, 0.9, 0.85, 0.75, 1.75, 0.4, 1.45]
c_black_runs = [(39.405, 39.44, 0.25), (39.61, 39.63, 0.40), (39.555, 39.565, 0.05), (39.913, 39.972, 0.43), (40.06, 40.076, 0.55), (40.176, 40.21, 0.55), (40.172, 40.2, 0.10), (40.227, 40.244, 0.64),
                (40.24, 40.246, 0.07), (39.76, 39.768, 1.62), (39.815, 39.82, 0.13), (39.955, 39.972, 0.30), (40.17, 40.18, 0.75)]
c_black_px = [39.41, 39.43, 39.62, 39.93, 39.94, 39.925, 40.21, 40.23, 40.17, 40.185, 40.18]
c_black_py = [0.35, 0.15, 0.55, 0.25, 0.5, 0.55, 0.25, 0.5, 0.65, 0.7, 0.4]
c_red_px = [39.251, 39.307, 39.325, 39.385, 39.4, 39.402, 39.407, 39.455, 39.553, 39.59, 39.611, 39.632, 39.70, 39.704, 39.746, 39.763, 39.815, 39.906, 39.913, 39.956, 39.955,
            40.013, 40.055, 40.056, 40.115, 40.16, 40.169, 40.173, 40.189, 40.211, 40.238]
c_red_py = [0.52, 0.8, 0.36, 0.1, 0.23, 0.35, 0.23, 0.23, 0.1, 0.18, 0.39, 0.59, 0.18, 0.39, 6.09, 1.59, 0.11, 0.85, 0.26, 0.43, 0.23, 0.11, 1.59, 0.92, 1.26, 0.11, 0.07, 0.85, 0.52, 0.52, 0.07]

panels = {
    "a": [(a_light_runs, a_light_px, a_light_py, a_light_dots), (a_mid_runs, a_mid_px, a_mid_py, a_mid_dots), (a_dark_runs, a_dark_px, a_dark_py, a_dark_dots),
          (a_black_runs, a_black_px, a_black_py, a_black_dots), (a_red_runs, a_red_px, a_red_py, [])],
    "b": [(b_light_runs, b_light_px, b_light_py, []), (b_mid_runs, b_mid_px, b_mid_py, b_mid_dots), (b_dark_runs, b_dark_px, b_dark_py, b_dark_dots),
          (b_black_runs, b_black_px, b_black_py, b_black_dots), (b_red_runs, b_red_px, b_red_py, b_red_dots)],
    "c": [(c_light_runs, c_light_px, c_light_py, c_light_dots), (c_mid_runs, c_mid_px, c_mid_py, c_mid_dots), (c_dark_runs, c_dark_px, c_dark_py, []),
          (c_black_runs, c_black_px, c_black_py, []), ([], c_red_px, c_red_py, [])],
}
axis_ids = {"a": ("x", "y"), "b": ("x2", "y2"), "c": ("x3", "y3")}
dot_size = {"a": 6.5, "b": 7, "c": 6}

W, H = 946, 1348
FONT = "Liberation Sans, Arial, sans-serif"
INK = "#1c1c1c"

fig = go.Figure()

for key, classes in panels.items():
    xa, ya = axis_ids[key]
    for i, (runs, px, py, dots) in enumerate(classes):
        xs, ys = [], []
        for a, b, v in runs:
            xs += [a, b, None]
            ys += [v, v, None]
        for a, v in list(zip(px, py)) + dots:
            xs += [a, None]
            ys += [v, None]
        is_red = i == 4
        size = dot_size[key] + (1 if is_red and key == "b" else 0)
        fig.add_trace(go.Scatter(
            x=xs, y=ys, xaxis=xa, yaxis=ya, mode="lines+markers", showlegend=False, hoverinfo="skip",
            connectgaps=False,
            line=dict(color=class_colors[i], width=size - 0.5),
            marker=dict(size=size, color=class_colors[i], opacity=0.92,
                        line=dict(width=0.5 if is_red else 0, color="#4a120a")),
        ))

# bigger dots for the legend only
for name, col in zip(class_names, class_colors):
    fig.add_trace(go.Scatter(x=[None], y=[None], xaxis="x3", yaxis="y3", mode="markers", name=name,
                             legendgroup=name, marker=dict(size=16, color=col)))


def x_axis(lo, hi, ticks, anchor):
    return dict(range=[lo, hi], domain=[86 / W, 930 / W], tickvals=ticks, ticktext=["%.1f" % t for t in ticks], anchor=anchor,
                showgrid=False, zeroline=False, showline=True, linecolor=INK, linewidth=2, automargin=False,
                ticks="outside", ticklen=10, tickwidth=1.6, tickcolor=INK, ticklabelstandoff=-3, ticklabeloverflow="allow",
                tickfont=dict(size=23, color=INK),
                title=dict(text="Position (Mb)", standoff=14, font=dict(size=24, color=INK)))


def y_axis(lo, hi, ticks, top, bottom, anchor, standoff):
    return dict(range=[lo, hi], domain=[1 - bottom / H, 1 - top / H], tickvals=ticks, anchor=anchor,
                showgrid=False, zeroline=False, showline=True, linecolor=INK, linewidth=2, automargin=False,
                ticks="outside", ticklen=10, tickwidth=1.6, tickcolor=INK, ticklabelstandoff=4,
                tickfont=dict(size=23, color=INK),
                title=dict(text="−log<sub>10</sub> (<i>P</i> value)", standoff=standoff, font=dict(size=24, color=INK)))


fig.update_layout(
    width=W, height=H, margin=dict(l=0, r=0, t=0, b=0, autoexpand=False), autosize=False,
    paper_bgcolor="white", plot_bgcolor="white",
    font=dict(family=FONT, size=24, color=INK),
    xaxis=x_axis(113.484, 114.533, a_xticks, "y"),
    yaxis=y_axis(-0.313, 8.25, a_yticks, 39, 367, "x", 25),
    xaxis2=x_axis(176.526, 177.617, b_xticks, "y2"),
    yaxis2=y_axis(-0.435, 11.45, b_yticks, 488, 816, "x2", 13),
    xaxis3=x_axis(39.185, 40.262, c_xticks, "y3"),
    yaxis3=y_axis(-0.64, 15.53, c_yticks, 942, 1271, "x3", 13),
    legend=dict(x=642 / W, y=1 - 944 / H, xanchor="left", yanchor="top", bgcolor="rgba(0,0,0,0)",
                font=dict(size=24, color=INK), itemwidth=30, tracegroupgap=0),
)

for letter, top in zip(["a", "b", "c"], [24, 486, 924]):
    fig.add_annotation(text="<b>%s</b>" % letter, xref="paper", yref="paper", x=2 / W, y=1 - top / H,
                       xanchor="left", yanchor="middle", showarrow=False, borderpad=0,
                       font=dict(family="Open Sans, sans-serif", size=40, color="#111111"))

# page default margin would push the figure 8 px off
fig.write_html("out.html", config={"displayModeBar": False}, post_script="document.body.style.margin='0';")
